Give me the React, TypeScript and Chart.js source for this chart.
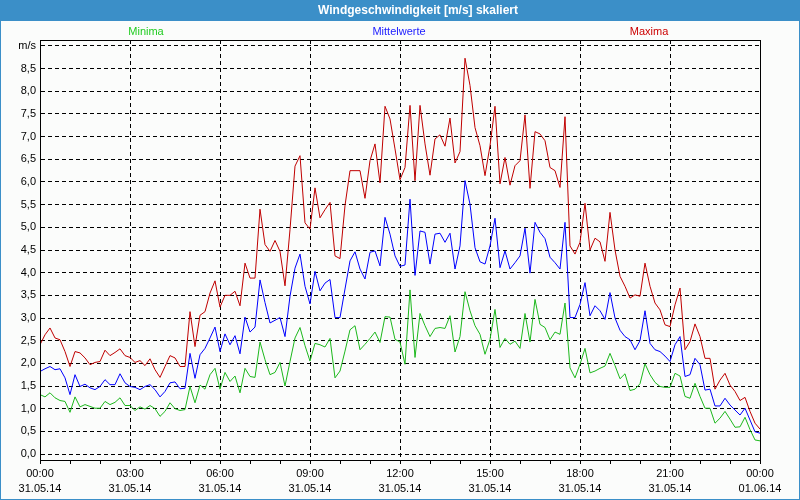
import { useEffect, useRef } from "react";
import { Chart, registerables } from "chart.js";

Chart.register(...registerables);

const chartTitle = "Windgeschwindigkeit [m/s] skaliert";
const seriesNames = ["Minima", "Mittelwerte", "Maxima"];
const seriesColors = ["#1cb81c", "#0000ff", "#c00000"];
const legendColors = ["#22cc22", "#1a1aff", "#cc0000"];
const stepMinutes = 10;

const maxima = [
  2.41, 2.63, 2.78, 2.56, 2.52, 2.26, 1.93, 2.26, 2.23, 2.12, 1.97, 2.02, 2.04, 2.29, 2.17, 2.24, 2.32, 2.17, 2.13, 2.02,
  2.06, 1.95, 2.1, 1.86, 1.69, 1.93, 2.17, 2.12, 1.93, 1.93, 3.14, 2.37, 3.06, 3.14, 3.55, 3.82, 3.24, 3.5, 3.5, 3.59,
  3.27, 4.21, 3.88, 3.88, 5.4, 4.62, 4.47, 4.71, 4.47, 3.71, 4.95, 6.35, 6.58, 5.1, 4.96, 5.87, 5.21, 5.39, 5.55, 4.37,
  4.31, 5.48, 6.25, 6.25, 6.25, 5.64, 6.47, 6.84, 5.98, 7.67, 7.39, 6.73, 6.05, 6.32, 7.69, 6.03, 7.69, 6.84, 6.15, 6.95,
  7.04, 6.79, 7.41, 6.42, 6.67, 8.73, 8.13, 7.2, 6.8, 6.14, 6.8, 7.67, 5.96, 6.54, 5.93, 6.36, 6.47, 7.48, 5.86, 7.11,
  7.06, 6.91, 6.32, 6.25, 5.88, 7.44, 4.59, 4.41, 4.67, 5.53, 4.5, 4.76, 4.68, 4.25, 5.33, 4.5, 3.92, 3.7, 3.44, 3.51,
  3.48, 4.21, 3.7, 3.33, 3.18, 2.85, 2.81, 3.29, 3.66, 2.3, 2.48, 2.87, 2.59, 2.11, 2.11, 1.43, 1.63, 1.78, 1.52, 1.38,
  1.18, 1.25, 0.94, 0.68, 0.55,
];

const mittelwerte = [
  1.82, 1.88, 1.93, 1.86, 1.88, 1.68, 1.31, 1.75, 1.49, 1.54, 1.46, 1.42, 1.49, 1.64, 1.53, 1.53, 1.77, 1.57, 1.49, 1.47,
  1.42, 1.49, 1.53, 1.42, 1.26, 1.38, 1.57, 1.59, 1.44, 1.45, 2.22, 1.67, 2.19, 2.33, 2.56, 2.8, 2.26, 2.65, 2.41, 2.61,
  2.21, 3.02, 2.69, 2.8, 3.84, 3.34, 2.89, 2.95, 3.01, 2.59, 3.48, 4.1, 4.41, 3.7, 3.31, 4.03, 3.6, 3.77, 3.85, 3.01,
  3.01, 3.64, 4.26, 4.46, 4.08, 3.86, 4.45, 4.48, 4.15, 5.22, 4.85, 4.37, 4.14, 4.17, 5.62, 3.94, 4.92, 4.89, 4.19, 4.85,
  4.87, 4.67, 4.87, 4.08, 4.59, 6.03, 5.51, 4.55, 4.24, 4.19, 4.59, 5.2, 4.11, 4.48, 4.08, 4.22, 4.37, 4.98, 3.99, 5.11,
  4.89, 4.75, 4.34, 4.22, 4.08, 5.11, 3.01, 3.01, 3.3, 3.78, 3.05, 3.27, 3.16, 2.97, 3.56, 3.0, 2.73, 2.59, 2.52, 2.3,
  2.5, 3.16, 2.44, 2.3, 2.26, 2.16, 2.04, 2.41, 2.59, 1.71, 1.75, 2.11, 1.97, 1.41, 1.43, 1.06, 1.06, 1.23, 1.08, 0.97,
  0.86, 1.01, 0.75, 0.49, 0.46,
];

const minima = [
  1.31, 1.26, 1.35, 1.24, 1.18, 1.16, 0.92, 1.26, 1.04, 1.09, 1.05, 1.01, 1.01, 1.16, 1.09, 1.14, 1.24, 1.07, 1.07, 0.96,
  1.04, 0.99, 1.07, 1.0, 0.83, 0.94, 1.13, 1.0, 0.96, 0.98, 1.49, 1.13, 1.52, 1.43, 1.75, 1.89, 1.43, 1.8, 1.6, 1.72,
  1.35, 1.89, 1.71, 1.69, 2.47, 2.08, 1.75, 1.8, 2.02, 1.5, 2.04, 2.56, 2.79, 2.39, 2.05, 2.44, 2.41, 2.36, 2.55, 1.68,
  1.83, 2.27, 2.74, 2.83, 2.3, 2.42, 2.55, 2.69, 2.46, 3.03, 3.02, 2.53, 2.47, 1.98, 3.62, 2.13, 3.1, 2.83, 2.59, 2.77,
  2.79, 2.77, 3.05, 2.25, 2.59, 3.58, 3.16, 2.83, 2.64, 2.2, 2.53, 3.19, 2.35, 2.55, 2.42, 2.49, 2.33, 3.1, 2.47, 3.41,
  2.86, 2.79, 2.52, 2.69, 2.64, 3.33, 1.9, 1.68, 1.98, 2.33, 1.79, 1.83, 1.89, 1.94, 2.22, 1.95, 1.66, 1.77, 1.4, 1.43,
  1.55, 1.99, 1.75, 1.58, 1.49, 1.47, 1.47, 1.78, 1.72, 1.27, 1.23, 1.56, 1.27, 1.01, 1.01, 0.68, 0.79, 0.94, 0.77, 0.59,
  0.6, 0.81, 0.54, 0.31, 0.29,
];

const yTicks = [0, 0.5, 1, 1.5, 2, 2.5, 3, 3.5, 4, 4.5, 5, 5.5, 6, 6.5, 7, 7.5, 8, 8.5, 9];
const yUnitLabel = "m/s";
const xHours = [0, 1, 2, 3, 4, 5, 6, 7, 8, 9, 10, 11, 12, 13, 14, 15, 16, 17, 18, 19, 20, 21, 22, 23, 24];
const xLabelHours = [0, 3, 6, 9, 12, 15, 18, 21, 24];
const xLabelTimes = ["00:00", "03:00", "06:00", "09:00", "12:00", "15:00", "18:00", "21:00", "00:00"];
const xLabelDates = ["31.05.14", "31.05.14", "31.05.14", "31.05.14", "31.05.14", "31.05.14", "31.05.14", "31.05.14", "01.06.14"];

const FONT = '"Liberation Sans", Arial, sans-serif';

const toPoints = (arr: number[]) => arr.map((v, i) => ({ x: (i * stepMinutes) / 60, y: v }));

export default function App() {
  const ref = useRef<HTMLCanvasElement | null>(null);

  useEffect(() => {
    document.body.style.margin = "0";
    const canvas = ref.current;
    if (!canvas) return;

    const framePlugin = {
      id: "frame",
      beforeDraw(chart: any) {
        const { ctx, width, height } = chart;
        ctx.save();
        ctx.fillStyle = "#fbfcfb";
        ctx.fillRect(0, 0, width, height);
        ctx.fillStyle = "#3b8fc8";
        ctx.fillRect(0, 0, width, 21);
        ctx.fillStyle = "#ffffff";
        ctx.font = `bold 12px ${FONT}`;
        ctx.textAlign = "center";
        ctx.textBaseline = "middle";
        ctx.fillText(chartTitle, 418, 11);
        ctx.font = `11px ${FONT}`;
        const legendX = [146, 399, 649];
        seriesNames.forEach((n, k) => {
          ctx.fillStyle = legendColors[k];
          ctx.fillText(n, legendX[k], 32);
        });
        ctx.strokeStyle = "#3b8fc8";
        ctx.lineWidth = 1;
        ctx.strokeRect(0.5, 0.5, width - 1, height - 1);
        ctx.restore();
      },
      afterDraw(chart: any) {
        const { ctx, chartArea } = chart;
        ctx.save();
        ctx.strokeStyle = "#000";
        ctx.lineWidth = 1;
        ctx.setLineDash([]);
        ctx.strokeRect(
          Math.round(chartArea.left) + 0.5,
          Math.round(chartArea.top) + 0.5,
          Math.round(chartArea.right - chartArea.left),
          Math.round(chartArea.bottom - chartArea.top)
        );
        ctx.restore();
      },
    };

    const chart = new Chart(canvas, {
      type: "line",
      data: {
        datasets: [
          { label: seriesNames[2], data: toPoints(maxima), borderColor: seriesColors[2] },
          { label: seriesNames[1], data: toPoints(mittelwerte), borderColor: seriesColors[1] },
          { label: seriesNames[0], data: toPoints(minima), borderColor: seriesColors[0] },
        ].map((d) => ({ ...d, borderWidth: 1, pointRadius: 0, tension: 0, fill: false })),
      },
      options: {
        responsive: false,
        animation: false,
        devicePixelRatio: 1,
        layout: { padding: { top: 40, right: 40, bottom: 0, left: 0 } },
        plugins: { legend: { display: false }, tooltip: { enabled: false }, title: { display: false } },
        scales: {
          x: {
            type: "linear",
            min: 0,
            max: 24,
            afterBuildTicks: (scale: any) => {
              scale.ticks = xHours.map((h) => ({ value: h }));
            },
            afterFit: (scale: any) => {
              scale.height = 40;
            },
            ticks: {
              autoSkip: false,
              maxRotation: 0,
              minRotation: 0,
              padding: 3,
              color: "#000",
              font: { family: FONT, size: 11, lineHeight: 1.35 },
              callback: (value: any) => {
                const k = xLabelHours.indexOf(Number(value));
                return k >= 0 ? [xLabelTimes[k], xLabelDates[k]] : "";
              },
            },
            grid: {
              color: (c: any) => (c.tick && xLabelHours.includes(c.tick.value) ? "#000" : "rgba(0,0,0,0)"),
              lineWidth: 1,
              drawTicks: true,
              tickLength: 4,
              tickColor: "#000",
              tickWidth: 1,
              tickBorderDash: [],
            },
            border: { display: true, color: "#000", width: 1, dash: [4, 3] },
          },
          y: {
            type: "linear",
            min: -0.132,
            max: 9.132,
            afterBuildTicks: (scale: any) => {
              scale.ticks = yTicks.map((v) => ({ value: v }));
            },
            afterFit: (scale: any) => {
              scale.width = 40;
            },
            ticks: {
              padding: 4,
              color: "#000",
              font: { family: FONT, size: 11 },
              callback: (value: any) => {
                const v = Number(value);
                if (v === yTicks[yTicks.length - 1]) return yUnitLabel;
                return v.toFixed(1).replace(".", ",");
              },
            },
            grid: { color: "#000", lineWidth: 1, drawTicks: false },
            border: { display: true, color: "#000", width: 1, dash: [4, 3] },
          },
        },
      },
      plugins: [framePlugin],
    } as any);

    return () => chart.destroy();
  }, []);

  return (
    <div style={{ position: "absolute", left: 0, top: 0, width: 800, height: 500 }}>
      <canvas ref={ref} width={800} height={500} style={{ display: "block", width: 800, height: 500 }} />
    </div>
  );
}
